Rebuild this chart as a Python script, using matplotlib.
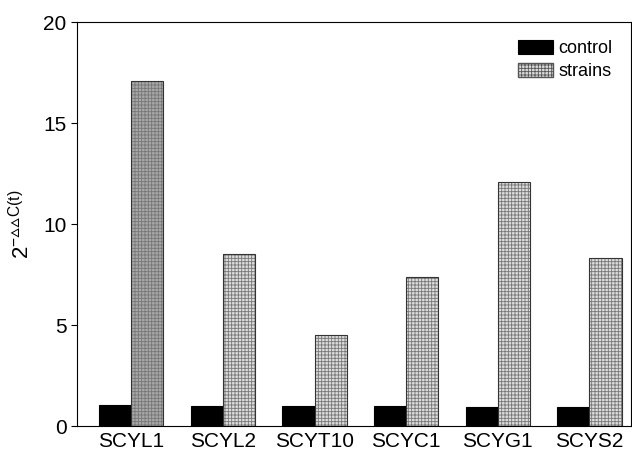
import matplotlib.pyplot as plt
import numpy as np

plt.rcParams['font.family'] = ['Liberation Sans', 'DejaVu Sans']
plt.rcParams['mathtext.fontset'] = 'custom'
plt.rcParams['mathtext.rm'] = 'Liberation Sans'
plt.rcParams['hatch.linewidth'] = 0.6

genes = ['SCYL1', 'SCYL2', 'SCYT10', 'SCYC1', 'SCYG1', 'SCYS2']
control = [1.05, 1.0, 1.0, 0.98, 0.97, 0.95]
strains = [17.1, 8.5, 4.5, 7.4, 12.1, 8.3]

x = np.arange(len(genes))
w = 0.35

fig = plt.figure(figsize=(6.32, 4.5), dpi=100)
ax = fig.add_axes([0.122, 0.053, 0.876, 0.898])

ax.bar(x - w/2, control, w, color='black', edgecolor='black', linewidth=0.8, label='control')
# strains: grey fill with a fine grid hatch
faces = ['#a8a8a8'] + ['#dcdcdc'] * (len(genes) - 1)
ax.bar(x + w/2, strains, w, color=faces, edgecolor='#777777', hatch='+++++', linewidth=0)
ax.bar(x + w/2, strains, w, fill=False, edgecolor='#333333', linewidth=0.8)
# legend proxy
ax.bar([0], [0], 0, color='#dcdcdc', edgecolor='#555555', hatch='+++++', label='strains')

ax.set_xlim(-0.59, 5.45)
ax.set_ylim(0, 20)
ax.set_yticks([0, 5, 10, 15, 20])
ax.set_xticks(x)
ax.set_xticklabels(genes)
ax.tick_params(axis='x', length=0, labelsize=15, pad=4)
ax.tick_params(axis='y', direction='out', length=4, labelsize=15)
ax.set_ylabel(r'$\mathregular{2^{-▵▵C(t)}}$', fontsize=16)
ax.yaxis.set_label_coords(-0.078, 0.5)

ax.legend(loc='upper right', frameon=False, fontsize=13, handlelength=1.95,
          handleheight=0.8, handletextpad=0.3, borderaxespad=0.6, labelspacing=0.3)

fig.savefig('out.png', dpi=100)
